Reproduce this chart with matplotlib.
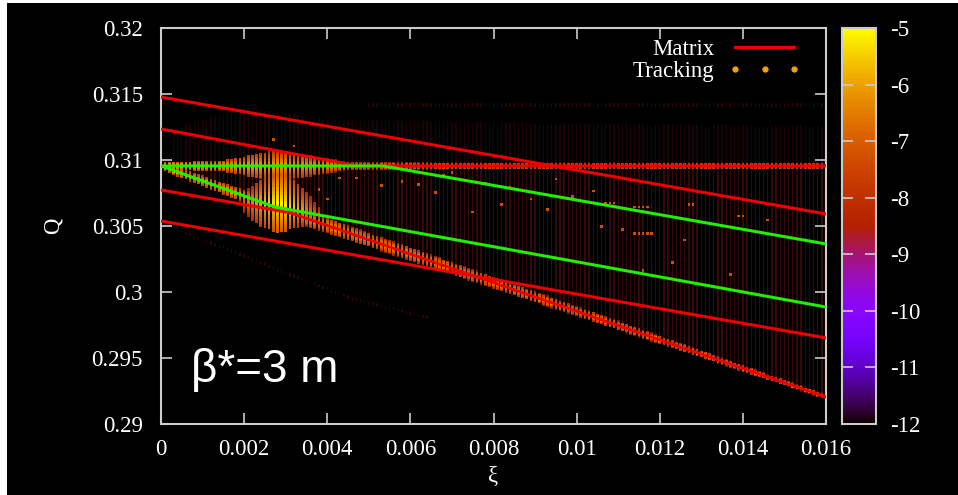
import numpy as np
import matplotlib.pyplot as plt
from matplotlib.patches import Rectangle
from matplotlib.lines import Line2D
from matplotlib.cm import ScalarMappable
from matplotlib.colors import Normalize

plt.rcParams['font.family'] = ['Liberation Serif', 'DejaVu Serif']
plt.rcParams['axes.unicode_minus'] = False

# scan grid (chromaticity columns, tune bins)
xi_lo, xi_hi, xi_step = 0.0, 0.016, 0.0001
q_lo, q_hi, q_step = 0.2900, 0.3200, 0.0001

# matrix tunes (red)
mat1_xi = [0.0, 0.016]
mat1_q = [0.31477, 0.30591]
mat2_xi = [0.0, 0.00474, 0.016]
mat2_q = [0.31235, 0.30955, 0.30955]
mat3_xi = [0.0, 0.0031, 0.016]
mat3_q = [0.30773, 0.30601, 0.29205]
mat4_xi = [0.0, 0.016]
mat4_q = [0.30538, 0.29652]

# coupled-mode tunes (green)
grn1_xi = [0.0, 0.00534, 0.016]
grn1_q = [0.30955, 0.30955, 0.30364]
grn2_xi = [0.0, 0.00274, 0.016]
grn2_q = [0.30955, 0.30644, 0.29886]

# tracking: main spectral lines, log10 amplitude and side band half width
flat_xi = [0.0, 0.0015, 0.0028, 0.0045, 0.008, 0.016]
flat_q = [0.30955, 0.30955, 0.30955, 0.30955, 0.30955, 0.30955]
flat_amp = [-5.4, -5.7, -5.9, -6.2, -6.5, -6.6]
flat_band = [0.0003, 0.0004, 0.0012, 0.0003, 0.00025, 0.00025]

steep_xi = [0.0, 0.0031, 0.016]
steep_q = [0.30955, 0.30601, 0.29205]
steep_amp = [-5.8, -6.0, -6.4]
steep_band = [0.0003, 0.0006, 0.0002]

# bright cluster near xi = 0.003
blob_xi = [0.0020, 0.0022, 0.0024, 0.0026, 0.0028, 0.0030, 0.0032, 0.0034, 0.0036, 0.0038]
blob_qc = [0.3068, 0.3068, 0.3068, 0.3068, 0.3068, 0.3066, 0.3064, 0.3062, 0.3060, 0.3059]
blob_qlo = [0.3060, 0.3054, 0.3050, 0.3047, 0.3045, 0.3046, 0.3048, 0.3050, 0.3052, 0.3054]
blob_qhi = [0.3076, 0.3080, 0.3084, 0.3088, 0.3092, 0.3090, 0.3084, 0.3078, 0.3072, 0.3066]
blob_amp = [-6.8, -6.3, -5.8, -5.4, -5.1, -5.2, -5.5, -6.0, -6.5, -7.0]

# weak lines
weak1_xi = [0.0, 0.0045, 0.0065]
weak1_q = [0.3052, 0.2996, 0.2980]
weak2_xi = [0.005, 0.016]
weak2_q = [0.3142, 0.3142]
weak_amp = -8.3

# isolated peaks between the branches
spur_xi = [0.0107, 0.0108, 0.0109, 0.0114, 0.0115, 0.0116, 0.0117, 0.0127, 0.0128,
           0.0139, 0.0140, 0.0146, 0.0106, 0.0111, 0.0114, 0.0115, 0.0116, 0.0117,
           0.0118, 0.0126, 0.0123, 0.0116, 0.0137, 0.0027, 0.0032, 0.0047, 0.0053,
           0.0058, 0.0062, 0.0066, 0.0068, 0.0038, 0.0040, 0.0043, 0.0078, 0.0084,
           0.0089, 0.0095, 0.0099, 0.0104, 0.0075, 0.0082, 0.0093, 0.0070]
spur_q = [0.30667, 0.30667, 0.30667, 0.30644, 0.30644, 0.30644, 0.30644, 0.30659, 0.30659,
          0.30568, 0.30568, 0.30545, 0.30492, 0.30470, 0.30440, 0.30440, 0.30440, 0.30440,
          0.30440, 0.30394, 0.30220, 0.30159, 0.30129, 0.31152, 0.31100, 0.30856, 0.30795,
          0.30826, 0.30810, 0.30750, 0.30880, 0.30770, 0.30700, 0.30860, 0.30820, 0.30790,
          0.30700, 0.30850, 0.30720, 0.30760, 0.30600, 0.30660, 0.30620, 0.30900]
spur_amp = -7.3

# diffuse floor between the branches
floor_xi = [0.0, 0.002, 0.004, 0.016]
floor_top = [0.3120, 0.3140, 0.3130, 0.3125]
floor_amp = -8.3

xi = xi_lo + xi_step * np.arange(int(round((xi_hi - xi_lo) / xi_step)) + 1)
q = q_lo + q_step * np.arange(int(round((q_hi - q_lo) / q_step)) + 1)
XI, Q = np.meshgrid(xi, q)
amp = np.full(XI.shape, np.nan)
lum = np.ones(XI.shape)


def paint(mask, value, shade=1.0):
    value = np.broadcast_to(value, amp.shape)
    shade = np.broadcast_to(shade, amp.shape)
    upd = mask & ~(amp >= value)
    amp[upd] = value[upd]
    lum[upd] = shade[upd]


flat_at = np.interp(XI, flat_xi, flat_q)
steep_at = np.interp(XI, steep_xi, steep_q)
top_at = np.interp(XI, floor_xi, floor_top)
full = np.ones(amp.shape)

paint((Q >= steep_at - 0.0002) & (Q <= flat_at) & (XI > 0.0003), floor_amp - 0.3 * full, 0.3)
paint((Q > flat_at) & (Q <= top_at) & (XI > 0.0003), floor_amp - 0.4 * full, 0.15)

for bx, bq, ba, bw in [(flat_xi, flat_q, flat_amp, flat_band),
                       (steep_xi, steep_q, steep_amp, steep_band)]:
    qc = np.interp(XI, bx, bq)
    a0 = np.interp(XI, bx, ba)
    w = np.interp(XI, bx, bw)
    d = np.abs(Q - qc)
    paint(d <= 0.00012, a0)
    edge = a0 - 2.0 * d / w
    paint(d <= w, edge, np.clip(edge + 8.8, 0.35, 1.0))

bmask = (XI >= blob_xi[0] - 1e-9) & (XI <= blob_xi[-1] + 1e-9)
bc = np.interp(XI, blob_xi, blob_qc)
blo = np.interp(XI, blob_xi, blob_qlo)
bhi = np.interp(XI, blob_xi, blob_qhi)
ba = np.interp(XI, blob_xi, blob_amp)
half_w = np.where(Q >= bc, bhi - bc, bc - blo)
paint(bmask & (Q >= blo) & (Q <= bhi), ba - 2.0 * np.abs(Q - bc) / half_w)

for wx, wq in [(weak1_xi, weak1_q), (weak2_xi, weak2_q)]:
    inside = (XI >= wx[0]) & (XI <= wx[-1])
    paint(inside & (np.abs(Q - np.interp(XI, wx, wq)) <= 0.00012), weak_amp * full, 0.2)

for sx, sq in zip(spur_xi, spur_q):
    i = np.argmin(np.abs(q - sq))
    j = np.argmin(np.abs(xi - sx))
    for k in (i, i + 1):
        if np.isnan(amp[k, j]) or amp[k, j] < spur_amp:
            amp[k, j] = spur_amp
            lum[k, j] = 1.0

norm = Normalize(-12, -5)
cmap = plt.get_cmap('gnuplot')

# gnuplot-like square points: each column is a thin strip, faint points narrower
qe = np.append(q - q_step / 2, q[-1] + q_step / 2)


def strips(sel, half):
    xe = np.ravel(np.column_stack([xi - half, xi + half]))
    col = cmap(norm(np.nan_to_num(amp, nan=-12)))
    col[..., :3] *= lum[..., None]
    col[..., 3] = np.where(sel, 1.0, 0.0)
    out = np.zeros((amp.shape[0], 2 * amp.shape[1] - 1, 4))
    out[:, ::2] = col
    return xe, out


strong = ~np.isnan(amp) & (lum >= 0.6)
weak = ~np.isnan(amp) & (lum < 0.6)

fig = plt.figure(figsize=(9.58, 4.95), dpi=100, facecolor='white')
fig.patches.append(Rectangle((7 / 958, 0), 1, 1 - 3 / 495, transform=fig.transFigure,
                             facecolor='black', edgecolor='none', zorder=-10))

ax = fig.add_axes([161 / 958, 1 - 424 / 495, 665 / 958, 396 / 495])
ax.set_facecolor('black')
xe, c = strips(weak, 0.16 * xi_step)
ax.pcolormesh(xe, qe, c, shading='flat', linewidth=0, rasterized=True)
xe, c = strips(strong, 0.32 * xi_step)
ax.pcolormesh(xe, qe, c, shading='flat', linewidth=0, rasterized=True)

red = '#ee0000'
green = '#22ee00'
for mx, mq in [(mat1_xi, mat1_q), (mat2_xi, mat2_q), (mat3_xi, mat3_q), (mat4_xi, mat4_q)]:
    ax.plot(mx, mq, color=red, lw=2.2, solid_capstyle='butt', zorder=3)
for gx, gq in [(grn1_xi, grn1_q), (grn2_xi, grn2_q)]:
    ax.plot(gx, gq, color=green, lw=2.2, solid_capstyle='butt', zorder=4)

ax.set_xlim(0, 0.016)
ax.set_ylim(0.29, 0.32)
ax.set_xticks([0, 0.002, 0.004, 0.006, 0.008, 0.01, 0.012, 0.014, 0.016])
ax.set_xticklabels(['0', '0.002', '0.004', '0.006', '0.008', '0.01', '0.012', '0.014', '0.016'])
ax.set_yticks([0.29, 0.295, 0.3, 0.305, 0.31, 0.315, 0.32])
ax.set_yticklabels(['0.29', '0.295', '0.3', '0.305', '0.31', '0.315', '0.32'])
frame = '#cccccc'
ax.tick_params(direction='in', length=8, width=1.2, color=frame, labelcolor='white',
               labelsize=16.5, top=True, right=True)
ax.tick_params(axis='y', pad=13)
ax.tick_params(axis='x', pad=11)
for s in ax.spines.values():
    s.set_color(frame)
    s.set_linewidth(1.5)
ax.set_xlabel('ξ', color='white', fontsize=16.5, labelpad=4)
ax.set_ylabel('Q', color='white', fontsize=16.5, labelpad=20)

ax.text(0.045, 0.105, 'β*=3 m', transform=ax.transAxes, color='white',
        fontsize=33, family=['Liberation Sans', 'DejaVu Sans'])

handles = [Line2D([], [], color=red, lw=2.2),
           Line2D([], [], color='#f5a010', ls='none', marker='o', markersize=3.5)]
leg = ax.legend(handles, ['Matrix', 'Tracking'], loc='upper right', frameon=False,
                markerfirst=False, numpoints=3, handlelength=3.2, handletextpad=0.6,
                fontsize=16.5, labelcolor='white', borderaxespad=0.1, labelspacing=0.0,
                bbox_to_anchor=(0.98, 1.0))

cax = fig.add_axes([842 / 958, 1 - 424 / 495, 34 / 958, 396 / 495])
cb = fig.colorbar(ScalarMappable(norm=norm, cmap=cmap), cax=cax)
cb.set_ticks(range(-12, -4))
cb.outline.set_edgecolor(frame)
cb.outline.set_linewidth(1.5)
cax.tick_params(direction='in', left=True, right=True, length=8, width=1.2,
                color=frame, labelcolor='white', labelsize=16.5, pad=10)

fig.savefig('out.png', dpi=100, facecolor=fig.get_facecolor())
